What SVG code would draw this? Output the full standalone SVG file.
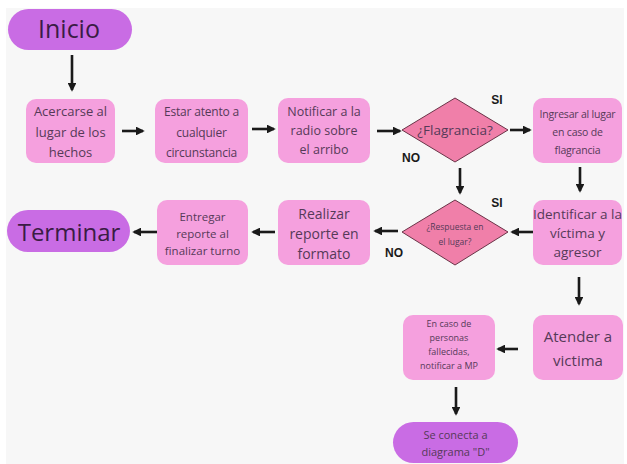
<svg xmlns="http://www.w3.org/2000/svg" width="627" height="464" viewBox="0 0 627 464">
<defs>
<marker id="ah" viewBox="0 0 10 10" refX="8" refY="5" markerWidth="3.4" markerHeight="3.4" orient="auto">
<path d="M0,0 L10,5 L0,10 Z" fill="#1a1a1a"/>
</marker>
<style>
.box{fill:#f5a0de;}
.pill{fill:#c96ce4;}
.dia{fill:#f07fa9;stroke:#6a3448;stroke-width:1;}
text{font-family:"Open Sans","Noto Sans","DejaVu Sans",sans-serif;fill:#553a58;text-anchor:middle;}
.big{fill:#3a1c44;}
.lbl{font-family:"Liberation Sans",Arial,sans-serif;font-weight:bold;fill:#1a1a1a;font-size:12px;}
.conn line{stroke:#1a1a1a;stroke-width:2.6;marker-end:url(#ah);}
</style>
</defs>
<rect x="0" y="0" width="627" height="464" fill="#ffffff"/>
<rect x="6" y="8" width="618" height="456" fill="#f7f7f7"/>

<g id="inicio">
<rect class="pill" x="8" y="9" width="124" height="41" rx="20.5"/>
<text class="big" x="69" y="38" font-size="25">Inicio</text>
</g>
<g id="acercarse">
<rect class="box" x="26" y="99" width="89" height="64" rx="10"/>
<text font-size="13"><tspan x="70.5" y="116">Acercarse al</tspan><tspan x="70.5" y="137">lugar de los</tspan><tspan x="70.5" y="157">hechos</tspan></text>
</g>
<g id="estar">
<rect class="box" x="155" y="99" width="93" height="64" rx="10"/>
<text font-size="12" letter-spacing="-0.2"><tspan x="201.5" y="116">Estar atento a</tspan><tspan x="201.5" y="137">cualquier</tspan><tspan x="201.5" y="157">circunstancia</tspan></text>
</g>
<g id="notificar">
<rect class="box" x="278" y="98" width="92" height="65" rx="10"/>
<text font-size="12.5"><tspan x="324" y="116">Notificar a la</tspan><tspan x="324" y="135">radio sobre</tspan><tspan x="324" y="154">el arribo</tspan></text>
</g>
<g id="flagrancia">
<polygon class="dia" points="455,98 508,130 455,162 402,130"/>
<text font-size="13.5" x="455" y="135">¿Flagrancia?</text>
</g>
<g id="ingresar">
<rect class="box" x="533" y="98" width="89" height="65" rx="10"/>
<text font-size="10.5" letter-spacing="-0.2"><tspan x="577.5" y="118">Ingresar al lugar</tspan><tspan x="577.5" y="136">en caso de</tspan><tspan x="577.5" y="154">flagrancia</tspan></text>
</g>
<g id="identificar">
<rect class="box" x="533" y="200" width="89" height="65" rx="10"/>
<text font-size="13.5"><tspan x="577.5" y="219">Identificar a la</tspan><tspan x="577.5" y="238">víctima y</tspan><tspan x="577.5" y="257">agresor</tspan></text>
</g>
<g id="respuesta">
<polygon class="dia" points="455,200 508,232 455,265 402,232"/>
<text font-size="8.5"><tspan x="455" y="230">¿Respuesta en</tspan><tspan x="455" y="245">el lugar?</tspan></text>
</g>
<g id="realizar">
<rect class="box" x="278" y="200" width="92" height="65" rx="10"/>
<text font-size="14"><tspan x="324" y="219">Realizar</tspan><tspan x="324" y="239">reporte en</tspan><tspan x="324" y="259">formato</tspan></text>
</g>
<g id="entregar">
<rect class="box" x="157" y="200" width="91" height="65" rx="10"/>
<text font-size="11.5"><tspan x="202.5" y="221">Entregar</tspan><tspan x="202.5" y="238">reporte al</tspan><tspan x="202.5" y="255">finalizar turno</tspan></text>
</g>
<g id="terminar">
<rect class="pill" x="7" y="210" width="123" height="42" rx="21"/>
<text class="big" x="69" y="241" font-size="24">Terminar</text>
</g>
<g id="atender">
<rect class="box" x="533" y="315" width="90" height="65" rx="10"/>
<text font-size="15"><tspan x="578" y="342">Atender a</tspan><tspan x="578" y="366">victima</tspan></text>
</g>
<g id="encaso">
<rect class="box" x="403" y="315" width="92" height="65" rx="10"/>
<text font-size="9"><tspan x="449" y="327">En caso de</tspan><tspan x="449" y="341">personas</tspan><tspan x="449" y="355">fallecidas,</tspan><tspan x="449" y="369">notificar a MP</tspan></text>
</g>
<g id="seconecta">
<rect class="pill" x="393" y="422" width="125" height="41" rx="20.5"/>
<text font-size="11"><tspan x="455.5" y="439">Se conecta a</tspan><tspan x="455.5" y="456">diagrama "D"</tspan></text>
</g>

<g id="labels">
<text class="lbl" x="497" y="104">SI</text>
<text class="lbl" x="411" y="162">NO</text>
<text class="lbl" x="497" y="207">SI</text>
<text class="lbl" x="394" y="257">NO</text>
</g>

<g class="conn" id="connectors">
<line x1="72" y1="55" x2="72" y2="90"/>
<line x1="122" y1="131" x2="143" y2="131"/>
<line x1="252" y1="129" x2="274" y2="129"/>
<line x1="377" y1="131" x2="400" y2="131"/>
<line x1="510" y1="130" x2="530" y2="130"/>
<line x1="580" y1="167" x2="580" y2="191"/>
<line x1="460" y1="168" x2="460" y2="193"/>
<line x1="533" y1="232" x2="512" y2="232"/>
<line x1="398" y1="231" x2="375" y2="231"/>
<line x1="275" y1="232" x2="253" y2="232"/>
<line x1="157" y1="232" x2="134" y2="232"/>
<line x1="579" y1="277" x2="579" y2="304"/>
<line x1="518" y1="349" x2="498" y2="349"/>
<line x1="456" y1="387" x2="456" y2="414"/>
</g>
</svg>
